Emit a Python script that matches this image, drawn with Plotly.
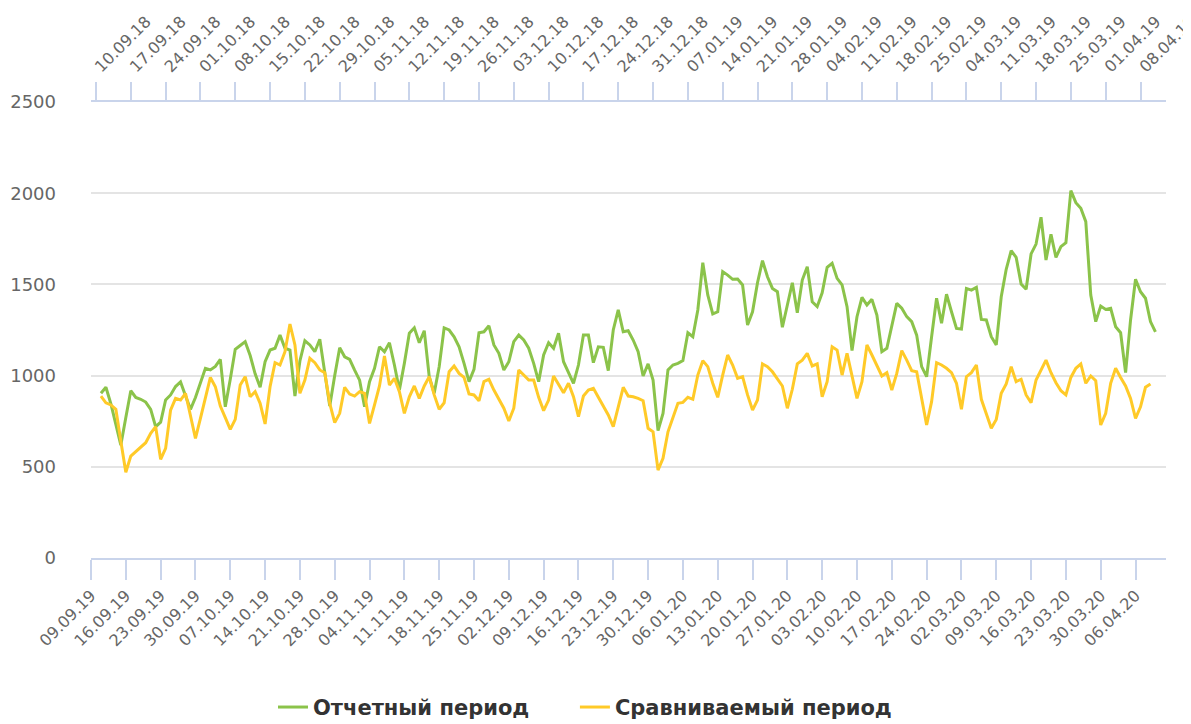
import pandas as pd
import plotly.graph_objects as go

# ---------------- data ----------------
series_names = ["Отчетный период", "Сравниваемый период"]

report_start = "2019-09-11"   # first day of the reporting period (daily values)
compare_start = "2018-09-11"  # first day of the comparison period (daily values)

report_values = [
    903, 936, 845, 730, 619, 770, 917, 880, 870, 855,
    815, 720, 745, 866, 894, 940, 965, 890, 815, 880,
    960, 1040, 1031, 1050, 1089, 829, 980, 1144, 1165, 1186,
    1110, 1010, 936, 1076, 1140, 1150, 1222, 1150, 1140, 888,
    1080, 1191, 1168, 1131, 1199, 1010, 833, 1000, 1153, 1103,
    1089, 1030, 975,
    829, 967, 1040, 1158, 1131, 1180, 1058, 921, 1067, 1232,
    1262, 1180, 1246, 994, 903, 1049, 1262, 1250, 1213, 1158,
    1067, 967, 1034, 1235, 1240, 1273, 1168, 1122, 1031, 1076,
    1186, 1222, 1195, 1150, 1067, 967, 1113, 1180, 1150, 1232,
    1076, 1021, 958, 1058, 1222, 1222, 1071, 1158, 1155, 1027,
    1250, 1360, 1240,
    1246, 1195, 1131, 998, 1064, 976, 698, 793, 1031, 1058,
    1067, 1082, 1235, 1213, 1360, 1619, 1442, 1338, 1350, 1570,
    1551, 1528, 1529, 1497, 1277, 1350, 1509, 1630, 1542, 1478,
    1460, 1265, 1387, 1509, 1345, 1524, 1597, 1405, 1378, 1454,
    1594, 1616, 1533, 1497, 1378, 1137, 1323, 1429, 1387, 1418,
    1332, 1131, 1150,
    1268, 1396, 1369, 1323, 1296, 1222, 1049, 994, 1213, 1424,
    1287, 1446, 1350, 1259, 1255, 1478, 1469, 1484, 1308, 1305,
    1213, 1168, 1432, 1583, 1685, 1648, 1502, 1473, 1667, 1721,
    1868, 1634, 1775, 1648, 1707, 1729, 2014, 1948, 1917, 1844,
    1442, 1296, 1381, 1363, 1369, 1268, 1235, 1016, 1305, 1528,
    1460, 1424, 1296, 1240,
]

compare_values = [
    888, 851, 839, 815, 640, 470, 559, 583, 607, 632,
    684, 720, 541, 601, 811, 875, 866, 903, 780, 656,
    766, 884, 990, 939, 833, 770, 705, 760, 948, 994,
    884, 912, 848, 735, 939, 1071, 1058, 1131, 1283, 1168,
    903, 976, 1095, 1071, 1031, 1016, 848, 742, 793, 936,
    899, 888, 912,
    903, 738, 839, 943, 1107, 948, 985, 912, 793, 884,
    943, 875, 943, 994, 894, 815, 851, 1021, 1053, 1012,
    990, 899, 894, 862, 967, 980, 921, 870, 821, 751,
    821, 1031, 1003, 976, 976, 881, 808, 866, 998, 954,
    906, 958, 884, 775, 888, 921, 930, 881, 833, 784,
    720, 829, 936,
    888, 884, 875, 862, 711, 692, 482, 547, 692, 766,
    848, 853, 881, 870, 1003, 1082, 1049, 958, 881, 1003,
    1113, 1058, 985, 994, 894, 811, 866, 1064, 1049, 1021,
    985, 943, 821, 925, 1064, 1085, 1122, 1053, 1064, 884,
    967, 1158, 1140, 1003, 1122, 1003, 875, 967, 1168, 1113,
    1058, 998,
    1016, 921, 1012, 1137, 1085, 1027, 1021, 884, 729, 857,
    1071, 1058, 1040, 1016, 958, 815, 994, 1016, 1058, 870,
    793, 711, 760, 903, 954, 1049, 967, 980, 894, 851,
    976, 1031, 1085, 1016, 961, 917, 894, 990, 1040, 1064,
    958, 998, 972, 729, 793, 958, 1040, 990, 943, 875,
    766, 829, 936, 954,
]

bottom_range = ["2019-09-09", "2020-04-12 03:00"]
top_range = ["2018-09-09", "2019-04-13 03:00"]
bottom_tick0 = "2019-09-09"
top_tick0 = "2018-09-10"
y_ticks = [0, 500, 1000, 1500, 2000, 2500]

colors = ["#8BC34A", "#FFCA28"]

report_dates = pd.date_range(report_start, periods=len(report_values), freq="D")
compare_dates = pd.date_range(compare_start, periods=len(compare_values), freq="D")

FONT = "DejaVu Sans"
AXIS_COLOR = "#c9d4eb"
TICK_FONT = dict(family=FONT, size=16, color="#666666")
LEGEND_FONT = dict(family=FONT, size=21, color="#333333", weight="bold")
WEEK = 7 * 24 * 3600 * 1000

fig = go.Figure()
fig.add_trace(go.Scatter(
    x=report_dates, y=report_values, name=series_names[0], mode="lines",
    line=dict(color=colors[0], width=3), xaxis="x", yaxis="y",
    legend="legend",
))
fig.add_trace(go.Scatter(
    x=compare_dates, y=compare_values, name=series_names[1], mode="lines",
    line=dict(color=colors[1], width=3), xaxis="x2", yaxis="y",
    legend="legend2",
))

fig.update_layout(
    width=1191, height=724,
    margin=dict(l=83, r=33, t=94, b=174, autoexpand=False),
    paper_bgcolor="white", plot_bgcolor="white",
    font=dict(family=FONT, color="#666666"),
    showlegend=True,
    legend=dict(
        orientation="h", xref="container", yref="container",
        x=0.2225, xanchor="left", y=0.034, yanchor="middle",
        font=LEGEND_FONT, bgcolor="rgba(0,0,0,0)",
    ),
    legend2=dict(
        orientation="h", xref="container", yref="container",
        x=0.476, xanchor="left", y=0.034, yanchor="middle",
        font=LEGEND_FONT, bgcolor="rgba(0,0,0,0)",
    ),
    xaxis=dict(
        type="date", range=bottom_range, tick0=bottom_tick0, dtick=WEEK,
        tickformat="%d.%m.%y", tickangle=-45, tickfont=TICK_FONT,
        showline=True, linecolor=AXIS_COLOR, linewidth=2,
        ticks="outside", ticklen=20, tickcolor=AXIS_COLOR, tickwidth=1.5,
        showgrid=False, zeroline=False, automargin=False,
    ),
    xaxis2=dict(
        type="date", range=top_range, tick0=top_tick0, dtick=WEEK,
        overlaying="x", side="top", anchor="y",
        tickformat="%d.%m.%y", tickangle=-45, tickfont=TICK_FONT,
        ticklabeloverflow="allow",
        showline=True, linecolor=AXIS_COLOR, linewidth=2,
        ticks="outside", ticklen=18, tickcolor=AXIS_COLOR, tickwidth=1.5,
        showgrid=False, zeroline=False, automargin=False,
    ),
    yaxis=dict(
        range=[0, 2500], tickvals=y_ticks,
        tickfont=dict(family=FONT, size=18, color="#666666"),
        showgrid=True, gridcolor="#e4e4e4", gridwidth=1.5,
        zeroline=False, showline=False, ticks="",
        ticklabelstandoff=34, automargin=False,
    ),
)

fig.write_html("out.html")
